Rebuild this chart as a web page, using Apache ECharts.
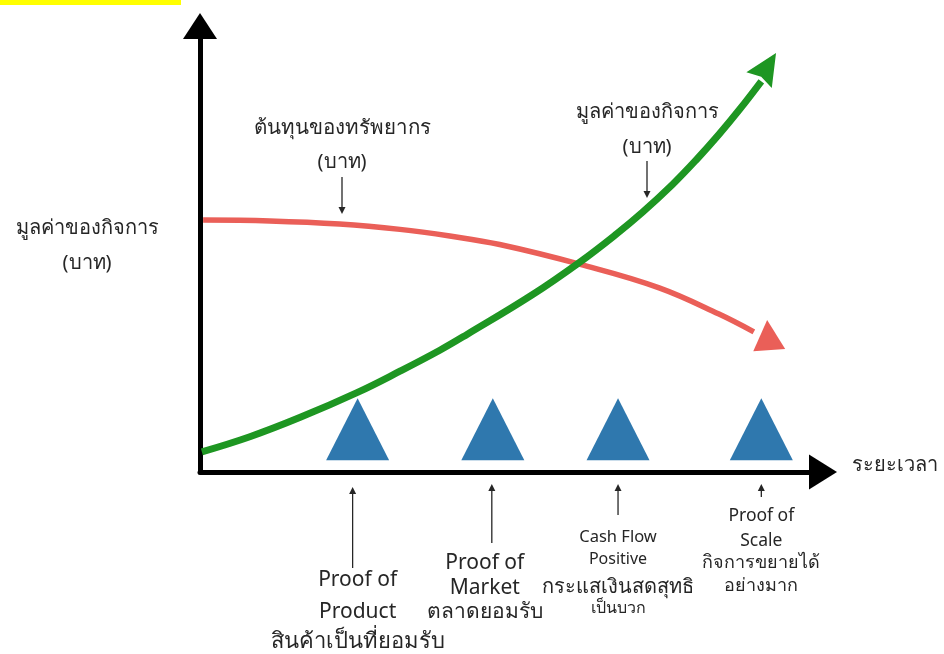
<!DOCTYPE html>
<html><head><meta charset="utf-8">
<script src="https://cdn.jsdelivr.net/npm/echarts@6.0.0/dist/echarts.min.js"></script>
<style>html,body{margin:0;padding:0;background:#fff}#c{width:944px;height:654px}</style>
</head><body><div id="c"></div>
<script>
// Business value curve (green) – time vs value
const valueCurveX = [0.03, 0.80, 1.60, 2.52, 3.21, 3.85, 4.28, 5.34, 6.12, 6.68, 7.10, 7.58, 7.96, 8.33, 8.65, 9.01];
const valueCurveY = [0.45, 0.79, 1.22, 1.78, 2.26, 2.73, 3.08, 3.98, 4.73, 5.33, 5.82, 6.44, 6.99, 7.57, 8.11, 8.76];
// Resource cost curve (red)
const costCurveX = [0.05, 1.12, 2.24, 3.21, 4.01, 4.81, 6.12, 7.37, 8.33, 8.89];
const costCurveY = [5.65, 5.63, 5.56, 5.44, 5.29, 5.10, 4.65, 4.13, 3.54, 3.14];
// Arrow heads at curve ends
const valueArrowHead = [9.11, 9.09];
const costArrowHead = [9.12, 3.07];
// Milestones (triangles) on time axis
const milestoneX = [2.53, 4.70, 6.71, 9.01];
const milestoneY = 0.96;
// Texts
const yAxisTitle = ['มูลค่าของกิจการ', '(บาท)'];
const xAxisTitle = 'ระยะเวลา';
const costTitle = ['ต้นทุนของทรัพยากร', '(บาท)'];
const valueTitle = ['มูลค่าของกิจการ', '(บาท)'];
const milestoneLabels = [
  ['Proof of', 'Product', 'สินค้าเป็นที่ยอมรับ'],
  ['Proof of', 'Market', 'ตลาดยอมรับ'],
  ['Cash Flow', 'Positive', 'กระแสเงินสดสุทธิ', 'เป็นบวก'],
  ['Proof of', 'Scale', 'กิจการขยายได้', 'อย่างมาก']
];

const FONT = "'Noto Sans', 'DejaVu Sans', sans-serif";
const GREEN = '#1e9622', RED = '#ea5f58', BLUE = '#2f78ae', INK = '#262626';

const chart = echarts.init(document.getElementById('c'), null, {renderer: 'canvas'});
const zip = (xs, ys) => xs.map((x, i) => [x, ys[i]]);

chart.setOption({
  animation: false,
  backgroundColor: '#fff',
  grid: {left: 200, right: 121, top: 26, bottom: 182},
  xAxis: {
    type: 'value', min: 0, max: 10,
    axisLine: {show: true, onZero: false, symbol: ['none', 'triangle'], symbolSize: [35, 28],
      lineStyle: {color: '#000', width: 5}},
    axisTick: {show: false}, axisLabel: {show: false}, splitLine: {show: false}
  },
  yAxis: {
    type: 'value', min: 0, max: 10,
    axisLine: {show: true, onZero: false, symbol: ['none', 'triangle'], symbolSize: [34, 26],
      lineStyle: {color: '#000', width: 5}},
    axisTick: {show: false}, axisLabel: {show: false}, splitLine: {show: false}
  },
  series: [
    {type: 'scatter', data: milestoneX.map(x => [x, milestoneY]), symbol: 'triangle',
      symbolSize: [63, 62], itemStyle: {color: BLUE, opacity: 1}, z: 2, silent: true},
    {type: 'line', data: zip(costCurveX, costCurveY), smooth: 0.4, showSymbol: false,
      lineStyle: {color: RED, width: 5.5}, z: 3, silent: true},
    {type: 'scatter', data: [costArrowHead], symbol: 'triangle', symbolSize: [32, 30],
      symbolRotate: 4, itemStyle: {color: RED, opacity: 1}, z: 3, silent: true},
    {type: 'line', data: zip(valueCurveX, valueCurveY), smooth: 0.4, showSymbol: false,
      lineStyle: {color: GREEN, width: 7}, z: 4, silent: true},
    {type: 'scatter', data: [valueArrowHead], symbol: 'path://M15,0 L30,32 L15,28 L0,32 Z',
      symbolSize: [30, 32], symbolKeepAspect: false,
      symbolRotate: -32, itemStyle: {color: GREEN, opacity: 1}, z: 4, silent: true}
  ]
});

// ---- annotations ----
const els = [];
function txt(s, x, y, size, color) {
  els.push({type: 'text', x: x, y: y, z: 10, silent: true,
    style: {text: s, fill: color || INK, font: size + 'px ' + FONT, textAlign: 'center', textVerticalAlign: 'middle'}});
}
function arrow(x, y1, y2) { // from y1 to y2 (arrow head at y2)
  const dir = y2 > y1 ? 1 : -1;
  els.push({type: 'line', z: 10, silent: true, shape: {x1: x, y1: y1, x2: x, y2: y2 - dir * 4}, style: {stroke: INK, lineWidth: 1.3}});
  els.push({type: 'polygon', z: 10, silent: true, shape: {points: [[x, y2], [x - 3.5, y2 - dir * 7], [x + 3.5, y2 - dir * 7]]}, style: {fill: INK}});
}
// yellow strip top-left
els.push({type: 'rect', silent: true, shape: {x: 0, y: 0, width: 181, height: 5}, style: {fill: '#ffff00'}});

// axis titles
txt(yAxisTitle[0], 87, 228, 20);
txt(yAxisTitle[1], 87, 263, 20);
txt(xAxisTitle, 895, 465, 20);
// curve titles
txt(costTitle[0], 342, 128, 20.5);
txt(costTitle[1], 342, 162, 20);
arrow(342, 177, 214);
txt(valueTitle[0], 647, 112, 20);
txt(valueTitle[1], 647, 147, 20);
arrow(647, 161, 198);

// milestone notes
const mx = milestoneX.map(x => chart.convertToPixel({xAxisIndex: 0}, x));
const noteLayout = [
  {arrow: [568, 487], cx: mx[0], ax: mx[0] - 5, rows: [[580, 21], [612, 21], [642, 22]]},
  {arrow: [543, 484], cx: mx[1] - 8, ax: mx[1] - 1, rows: [[563, 21], [588, 21], [612, 21]]},
  {arrow: [515, 484], cx: mx[2], ax: mx[2], rows: [[537, 16.5], [559, 16], [587, 20], [608, 16]]},
  {arrow: [497, 484], cx: mx[3], ax: mx[3], rows: [[516, 17.5], [541, 17.5], [563, 18], [586, 18]]}
];
noteLayout.forEach((n, i) => {
  arrow(n.ax, n.arrow[0], n.arrow[1]);
  milestoneLabels[i].forEach((s, j) => txt(s, n.cx, n.rows[j][0], n.rows[j][1]));
});

chart.setOption({graphic: {elements: els}});
</script>
</body></html>
